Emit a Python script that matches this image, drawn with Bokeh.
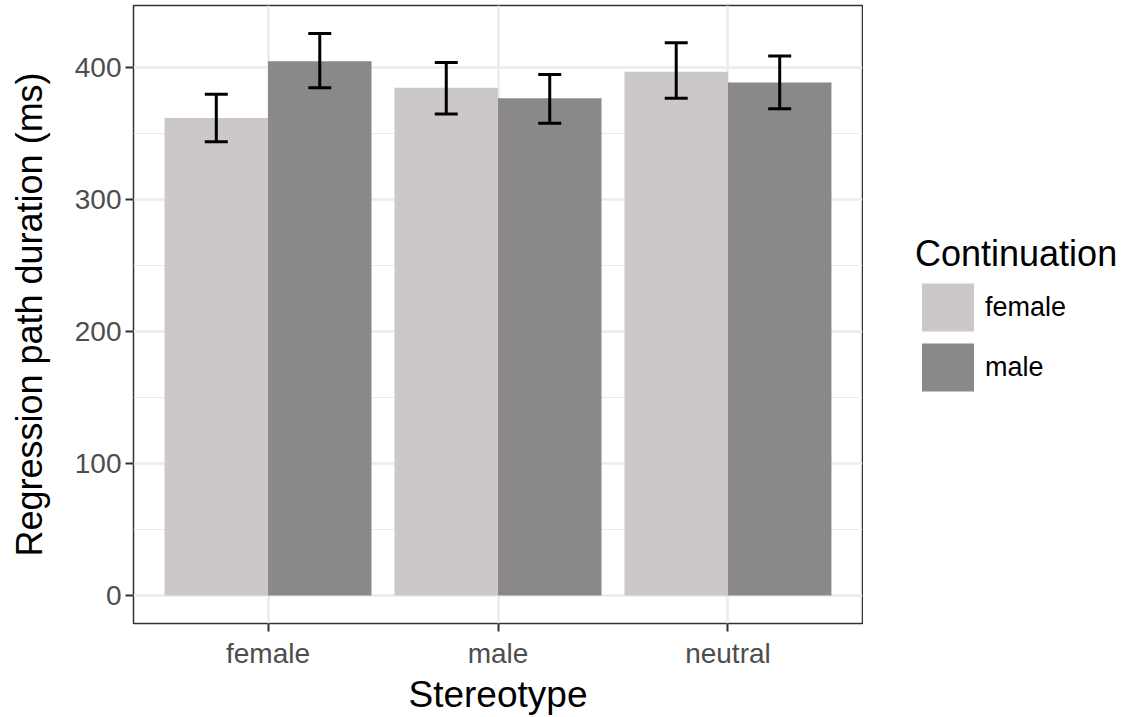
from bokeh.plotting import figure
from bokeh.layouts import row
from bokeh.models import (ColumnDataSource, FactorRange, Range1d, FixedTicker,
                          Legend, LegendItem)
from bokeh.transform import dodge
from bokeh.embed import file_html
from bokeh.resources import INLINE

# ---- data ----
stereotypes = ["female", "male", "neutral"]
continuations = ["female", "male"]
cont_female_mean = [362, 385, 397]
cont_female_lo = [344, 365, 377]
cont_female_hi = [380, 404, 419]
cont_male_mean = [405, 377, 389]
cont_male_lo = [385, 358, 369]
cont_male_hi = [426, 395, 409]
y_ticks = [0, 100, 200, 300, 400]
y_minor = [50, 150, 250, 350]

colors = {"female": "#CCC8C8", "male": "#8A8889"}
FONT = "Liberation Sans"

p = figure(width=863, height=717, output_backend="svg", toolbar_location=None,
           x_range=FactorRange(factors=stereotypes, range_padding=0.0567,
                               range_padding_units="percent"),
           y_range=Range1d(-21.3, 447.3),
           min_border_left=133, min_border_right=1, min_border_top=5,
           min_border_bottom=92)

p.background_fill_color = "white"
p.border_fill_color = "white"
p.outline_line_color = "#333333"
p.outline_line_width = 1.5

series = {
    "female": (cont_female_mean, cont_female_lo, cont_female_hi, -0.225),
    "male": (cont_male_mean, cont_male_lo, cont_male_hi, 0.225),
}
sources = {}
for cont in continuations:
    mean, lo, hi, off = series[cont]
    sources[cont] = ColumnDataSource(dict(stereotype=stereotypes, mean=mean, lo=lo, hi=hi))

for cont in continuations:
    off = series[cont][3]
    p.vbar(x=dodge("stereotype", off, range=p.x_range), top="mean", bottom=0,
           width=0.45, source=sources[cont], fill_color=colors[cont], line_color=None)

for cont in continuations:
    off = series[cont][3]
    src = sources[cont]
    p.segment(x0=dodge("stereotype", off, range=p.x_range), y0="lo",
              x1=dodge("stereotype", off, range=p.x_range), y1="hi",
              source=src, line_color="black", line_width=3)
    for fld in ("lo", "hi"):
        p.segment(x0=dodge("stereotype", off - 0.05, range=p.x_range), y0=fld,
                  x1=dodge("stereotype", off + 0.05, range=p.x_range), y1=fld,
                  source=src, line_color="black", line_width=3)

# grids
p.ygrid.ticker = FixedTicker(ticks=y_ticks, minor_ticks=y_minor)
p.ygrid.grid_line_color = "#EBEBEB"
p.ygrid.grid_line_width = 2.5
p.ygrid.minor_grid_line_color = "#EBEBEB"
p.ygrid.minor_grid_line_width = 1.2
p.xgrid.grid_line_color = "#EBEBEB"
p.xgrid.grid_line_width = 2.5

# axes
p.yaxis.ticker = FixedTicker(ticks=y_ticks, minor_ticks=[])
for ax in (p.xaxis[0], p.yaxis[0]):
    ax.axis_line_color = None
    ax.major_tick_line_color = "#333333"
    ax.major_tick_line_width = 2
    ax.major_tick_out = 8
    ax.major_tick_in = 0
    ax.minor_tick_line_color = None
    ax.major_label_text_font = FONT
    ax.major_label_text_font_size = "28px"
    ax.major_label_text_color = "#4D4D4D"
    ax.axis_label_text_font = FONT
    ax.axis_label_text_font_size = "37px"
    ax.axis_label_text_font_style = "normal"
    ax.axis_label_text_color = "black"

p.yaxis.axis_label_text_font_size = "36px"
p.xaxis.axis_label = "Stereotype"
p.yaxis.axis_label = "Regression path duration (ms)"
p.xaxis.major_label_standoff = 6
p.xaxis.axis_label_standoff = 2
p.yaxis.major_label_standoff = 4
p.yaxis.axis_label_standoff = 22

# ---- legend panel (separate figure to the right) ----
# key renderers are hidden zero-height bars; they only provide the
# legend glyph styling.
lg = figure(width=279, height=717, output_backend="svg", toolbar_location=None,
            x_range=p.x_range, y_range=Range1d(1000, 1001),
            min_border=0, outline_line_color=None)
lg.axis.visible = False
lg.grid.visible = False
lg.border_fill_color = "white"
lg.background_fill_color = "white"

key_renderers = {}
for cont in continuations:
    off = series[cont][3]
    key_renderers[cont] = lg.vbar(x=dodge("stereotype", off, range=p.x_range),
                                  top="mean", bottom="mean", width=0.45,
                                  source=sources[cont], visible=False,
                                  fill_color=colors[cont], line_color=None)

legend = Legend(
    items=[LegendItem(label=c, renderers=[key_renderers[c]]) for c in continuations],
    title="Continuation", location=(52, 226),
    title_text_font=FONT, title_text_font_size="36px", title_text_font_style="normal",
    title_text_color="black",
    label_text_font=FONT, label_text_font_size="27px", label_text_color="black",
    glyph_width=65, glyph_height=60, spacing=0, label_standoff=5,
    padding=0, margin=0, title_standoff=2, click_policy="none",
    inactive_fill_alpha=0,
    border_line_color=None, background_fill_alpha=0,
)
lg.add_layout(legend, "center")

layout = row(p, lg)
open("out.html", "w").write(file_html(layout, INLINE))
